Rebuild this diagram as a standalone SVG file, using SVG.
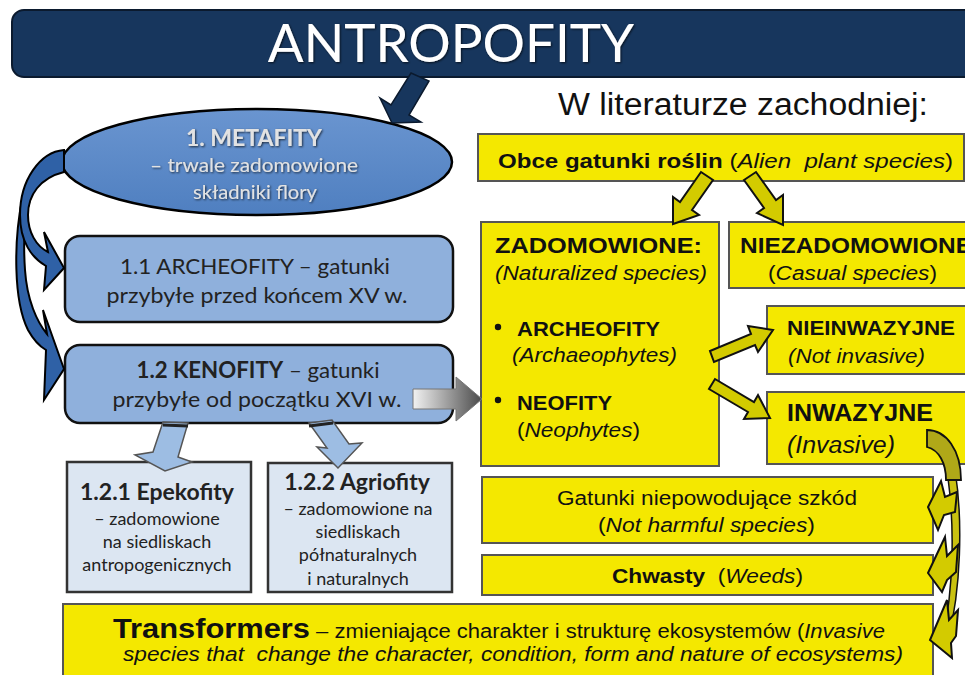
<svg xmlns="http://www.w3.org/2000/svg" width="965" height="675" viewBox="0 0 965 675">
<defs>
  <linearGradient id="ellG" x1="0" y1="0" x2="0" y2="1">
    <stop offset="0" stop-color="#6a95d0"/>
    <stop offset="1" stop-color="#4f7fc0"/>
  </linearGradient>
  <linearGradient id="grayG" x1="0" y1="0" x2="1" y2="0">
    <stop offset="0" stop-color="#f2f2f2"/>
    <stop offset="1" stop-color="#4a4a4a"/>
  </linearGradient>
  <filter id="sh" x="-10%" y="-10%" width="120%" height="130%">
    <feDropShadow dx="1" dy="1" stdDeviation="1" flood-color="#000" flood-opacity="0.7"/>
  </filter>
</defs>
<style>
  .cal{font-family:Lato,"Open Sans","Liberation Sans",sans-serif;}
  .ar{font-family:"Liberation Sans",Arial,sans-serif;fill:#111;}
  .b{font-weight:bold;}
  .i{font-style:italic;}
  .blue{fill:#8fb0dc;stroke:#111;stroke-width:2.5;}
  .lblue{fill:#dce6f2;stroke:#333;stroke-width:2.5;}
  .yel{fill:#f4e800;stroke:#555;stroke-width:2;}
  .yarr{fill:#d3cb00;stroke:#111;stroke-width:2;stroke-linejoin:miter;}
  .barr{fill:#2f61a6;stroke:#000;stroke-width:2;}
  .larr{fill:#9dbde3;stroke:#555;stroke-width:1.5;}
  .dk{fill:#222;}
</style>
<rect width="965" height="675" fill="#fff"/>

<g id="title">
  <rect x="12" y="10" width="975" height="67" rx="12" fill="#17365d" stroke="#0b1a2e" stroke-width="2"/>
  <text x="451" y="62" text-anchor="middle" class="cal" font-size="53" fill="#fff" filter="url(#sh)">ANTROPOFITY</text>
</g>

<g id="metafity">
  <ellipse cx="257" cy="162" rx="195" ry="53" fill="url(#ellG)" stroke="#000" stroke-width="2.5"/>
  <g class="cal" text-anchor="middle" fill="#e2e2e2" filter="url(#sh)">
    <text x="254" y="146" font-size="23" class="b">1. METAFITY</text>
    <text x="254" y="172" font-size="19" textLength="208" lengthAdjust="spacingAndGlyphs">– trwale zadomowione</text>
    <text x="255" y="199" font-size="19" textLength="124" lengthAdjust="spacingAndGlyphs">składniki flory</text>
  </g>
</g>

<g id="archeofity">
  <rect class="blue" x="65" y="236" width="388" height="86" rx="15"/>
  <g class="cal dk" text-anchor="middle" font-size="22">
    <text x="255" y="274" textLength="270" lengthAdjust="spacingAndGlyphs">1.1 ARCHEOFITY – gatunki</text>
    <text x="257" y="303" textLength="301" lengthAdjust="spacingAndGlyphs">przybyłe przed końcem XV w.</text>
  </g>
</g>

<g id="kenofity">
  <rect class="blue" x="65" y="345" width="388" height="78" rx="15"/>
  <g class="cal dk" text-anchor="middle" font-size="22">
    <text x="258" y="378" textLength="243" lengthAdjust="spacingAndGlyphs"><tspan font-weight="bold">1.2 KENOFITY</tspan> – gatunki</text>
    <text x="257" y="407" textLength="289" lengthAdjust="spacingAndGlyphs">przybyłe od początku XVI w.</text>
  </g>
</g>

<g id="epekofity">
  <rect class="lblue" x="67" y="462" width="184" height="130"/>
  <g class="cal dk" text-anchor="middle">
    <text x="157" y="500" font-size="23" class="b">1.2.1 Epekofity</text>
    <text x="157" y="525" font-size="18">– zadomowione</text>
    <text x="157" y="548" font-size="18">na siedliskach</text>
    <text x="157" y="571" font-size="18">antropogenicznych</text>
  </g>
</g>

<g id="agriofity">
  <rect class="lblue" x="268" y="463" width="184" height="129"/>
  <g class="cal dk" text-anchor="middle">
    <text x="357" y="490" font-size="23" class="b">1.2.2 Agriofity</text>
    <text x="358" y="515" font-size="18">– zadomowione na</text>
    <text x="358" y="538" font-size="18">siedliskach</text>
    <text x="358" y="561" font-size="18">półnaturalnych</text>
    <text x="358" y="585" font-size="18">i naturalnych</text>
  </g>
</g>

<g id="heading">
  <text x="558" y="115" class="ar" font-size="31" fill="#222" textLength="370" lengthAdjust="spacingAndGlyphs">W literaturze zachodniej:</text>
</g>

<g id="obce">
  <rect class="yel" x="478" y="134" width="486" height="47"/>
  <text x="498" y="168" class="ar" font-size="21" textLength="455" lengthAdjust="spacingAndGlyphs" xml:space="preserve"><tspan font-weight="bold">Obce gatunki roślin</tspan> (<tspan font-style="italic">Alien  plant species</tspan>)</text>
</g>

<g id="zadomowione">
  <rect class="yel" x="481" y="222" width="238" height="244"/>
  <text x="495" y="253" class="ar b" font-size="22" textLength="207" lengthAdjust="spacingAndGlyphs">ZADOMOWIONE:</text>
  <text x="495" y="280" class="ar i" font-size="20" textLength="212" lengthAdjust="spacingAndGlyphs">(Naturalized species)</text>
  <circle cx="498" cy="327" r="3.2" fill="#111"/>
  <text x="517" y="336" class="ar b" font-size="20" textLength="143" lengthAdjust="spacingAndGlyphs">ARCHEOFITY</text>
  <text x="512" y="362" class="ar i" font-size="20" textLength="165" lengthAdjust="spacingAndGlyphs">(Archaeophytes)</text>
  <circle cx="498" cy="400" r="3.2" fill="#111"/>
  <text x="517" y="410" class="ar b" font-size="20" textLength="95" lengthAdjust="spacingAndGlyphs">NEOFITY</text>
  <text x="517" y="437" class="ar" font-size="20" textLength="123" lengthAdjust="spacingAndGlyphs">(<tspan font-style="italic">Neophytes</tspan>)</text>
</g>

<g id="niezadomowione">
  <rect class="yel" x="729" y="222" width="240" height="66"/>
  <text x="740" y="253" class="ar b" font-size="22" textLength="232" lengthAdjust="spacingAndGlyphs">NIEZADOMOWIONE</text>
  <text x="768" y="280" class="ar" font-size="20" textLength="169" lengthAdjust="spacingAndGlyphs">(<tspan font-style="italic">Casual species</tspan>)</text>
</g>

<g id="nieinwazyjne">
  <rect class="yel" x="767" y="306" width="202" height="68"/>
  <text x="787" y="335" class="ar b" font-size="21" textLength="168" lengthAdjust="spacingAndGlyphs">NIEINWAZYJNE</text>
  <text x="788" y="363" class="ar i" font-size="20" textLength="137" lengthAdjust="spacingAndGlyphs">(Not invasive)</text>
</g>

<g id="inwazyjne">
  <rect class="yel" x="767" y="392" width="202" height="72"/>
  <text x="787" y="421" class="ar b" font-size="24" textLength="146" lengthAdjust="spacingAndGlyphs">INWAZYJNE</text>
  <text x="787" y="453" class="ar i" font-size="23" textLength="108" lengthAdjust="spacingAndGlyphs">(Invasive)</text>
</g>

<g id="niepowodujace">
  <rect class="yel" x="482" y="477" width="451" height="66"/>
  <text x="557" y="505" class="ar" font-size="20" textLength="300" lengthAdjust="spacingAndGlyphs">Gatunki niepowodujące szkód</text>
  <text x="598" y="532" class="ar" font-size="20" textLength="217" lengthAdjust="spacingAndGlyphs">(<tspan font-style="italic">Not harmful species</tspan>)</text>
</g>

<g id="chwasty">
  <rect class="yel" x="482" y="555" width="451" height="40"/>
  <text x="612" y="583" class="ar" font-size="20" textLength="191" lengthAdjust="spacingAndGlyphs" xml:space="preserve"><tspan font-weight="bold">Chwasty</tspan>  (<tspan font-style="italic">Weeds</tspan>)</text>
</g>

<g id="transformers">
  <rect class="yel" x="63" y="604" width="870" height="80"/>
  <text x="113" y="638" class="ar" font-size="20" textLength="772" lengthAdjust="spacingAndGlyphs"><tspan font-weight="bold" font-size="28">Transformers</tspan> – zmieniające charakter i strukturę ekosystemów (<tspan font-style="italic">Invasive</tspan></text>
  <text x="123" y="661" class="ar i" font-size="20" textLength="780" lengthAdjust="spacingAndGlyphs" xml:space="preserve">species that  change the character, condition, form and nature of ecosystems)</text>
</g>

<g id="connectors">
  <!-- title to metafity -->
  <polygon points="411,73 429,81 409,115 421,122 392,123 380,98 391,105" fill="#17365d" stroke="#0b1a2e" stroke-width="1.5"/>
  <!-- metafity to 1.2 (outer) -->
  <path class="barr" d="M22,200 C14,240 13,300 28,330 C33,339 39,346 46,350 L44,400 L64,369 L43,310 L47,334 C37,322 27,300 25,270 C23,240 25,215 30,200 Z"/>
  <!-- metafity to 1.1 -->
  <path class="barr" d="M64,150 C40,152 20,180 20,215 C20,242 32,258 46,266 L44,290 L64,268 L44,232 L48,252 C36,246 28,232 28,215 C28,195 40,178 64,172 Z"/>
  <!-- kenofity to zadomowione -->
  <polygon points="413,389 456,389 456,377 482,399 456,421 456,409 413,409" fill="url(#grayG)" stroke="#777" stroke-width="1"/>
  <!-- kenofity to 1.2.1 -->
  <polygon class="larr" points="163,422 188,423 178,457 192,462 165,471 135,455 153,452"/>
  <line x1="163" y1="425" x2="188" y2="426" stroke="#222" stroke-width="3"/>
  <!-- kenofity to 1.2.2 -->
  <polygon class="larr" points="309,423 332,420 349,444 362,443 338,468 317,447 327,448"/>
  <line x1="309" y1="426" x2="333" y2="423" stroke="#222" stroke-width="3"/>
  <!-- obce to zadomowione / niezadomowione -->
  <polygon class="yarr" points="701,172 713,180 692,210 699,215 673,224 673,197 680,202"/>
  <polygon class="yarr" points="744,180 756,172 776,200 783,195 783,225 757,213 764,208"/>
  <!-- zadomowione to nieinwazyjne / inwazyjne -->
  <polygon class="yarr" points="710,351 751,334 748,326 773,330 758,352 755,345 714,362"/>
  <polygon class="yarr" points="715,379 754,402 758,395 770,418 744,419 748,412 709,389"/>
  <!-- inwazyjne to three boxes -->
  <path d="M955,470 C963,520 961,590 948,640 L943,638 C953,590 955,530 948,478 Z" fill="#c9c110" stroke="#111" stroke-width="1.5"/>
  <path d="M927,430 C946,430 961,450 961,480 L946,480 C946,463 939,450 927,447 Z" fill="#b0a818" stroke="#111" stroke-width="1.8"/>
  <polygon class="yarr" points="957,492 945,497 941,481 928,507 938,530 944,515 955,512"/>
  <polygon class="yarr" points="958,545 947,556 945,537 928,573 942,592 947,580 956,572"/>
  <polygon class="yarr" points="958,610 949,620 947,600 930,640 952,658 951,643 956,636"/>
</g>
</svg>
